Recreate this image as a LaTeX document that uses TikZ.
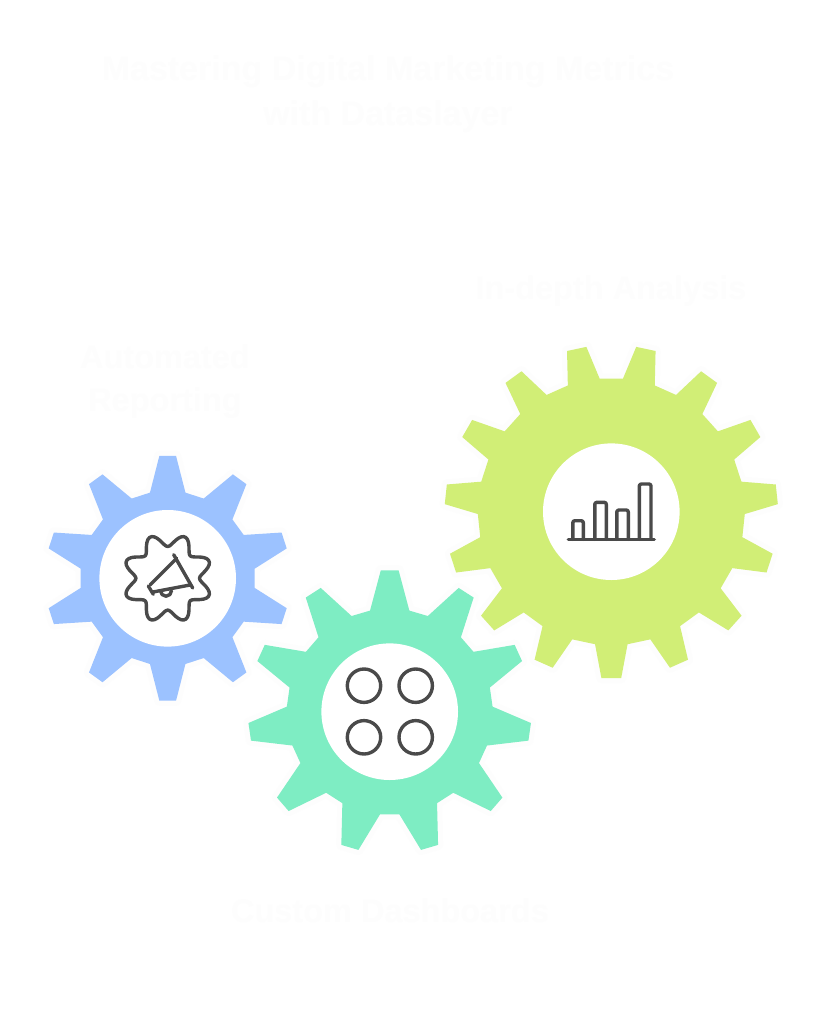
\documentclass[tikz,border=0pt]{standalone}
\usepackage{fontspec}
\setmainfont{Liberation Sans}
\definecolor{gearblue}{HTML}{9CC2FF}
\definecolor{gearmint}{HTML}{7EEDC3}
\definecolor{gearlime}{HTML}{D1EE76}
\definecolor{iconink}{HTML}{4A4A4A}
\definecolor{faintink}{HTML}{FDFDFD}
\definecolor{haloink}{HTML}{FDFDFD}
\tikzset{
  x=1pt,y=-1pt,
  icon/.style={draw=iconink,line width=3.4pt,line cap=round,line join=round},
  label/.style={text=faintink,font=\bfseries\fontsize{32.5}{43}\selectfont,inner sep=0pt,anchor=center,align=center},
  titlelabel/.style={label,font=\bfseries\fontsize{34}{45}\selectfont},
  gearface/.style={line join=round,preaction={draw=haloink,line width=10pt,line join=round}},
}
% #1 cx, #2 cy, #3 teeth, #4 start angle, #5 outer R, #6 root r, #7 tip half angle, #8 base half angle, #9 colour
\newcommand{\gearshape}[9]{%
  \pgfmathsetmacro{\gstep}{360/#3}%
  \fill[#9,gearface] ({#1+#5*cos(#4-#7)},{#2-#5*sin(#4-#7)})
    \foreach \gi in {1,...,#3}{
      -- ({#1+#5*cos(#4+(\gi-1)*\gstep-#7)},{#2-#5*sin(#4+(\gi-1)*\gstep-#7)})
      -- ({#1+#5*cos(#4+(\gi-1)*\gstep+#7)},{#2-#5*sin(#4+(\gi-1)*\gstep+#7)})
      -- ({#1+#6*cos(#4+(\gi-1)*\gstep+#8)},{#2-#6*sin(#4+(\gi-1)*\gstep+#8)})
      -- ({#1+#6*cos(#4+\gi*\gstep-#8)},{#2-#6*sin(#4+\gi*\gstep-#8)})
    } -- cycle;
  \fill[white] (#1,#2) circle[radius=68.3];
}
\begin{document}
\begin{tikzpicture}
\useasboundingbox (0,0) rectangle (827,1024);
\fill[white] (0,0) rectangle (827,1024);
\gearshape{167.7}{578.3}{10}{90}{122.7}{87.5}{3.9}{11.7}{gearblue}
\gearshape{611.3}{511.7}{15}{-90}{166.7}{133.5}{3.4}{7}{gearlime}
\gearshape{389.7}{711.7}{11}{90}{141.7}{103}{3.6}{11}{gearmint}
% badge and megaphone
\draw[icon] plot[smooth cycle,domain=0:357,samples=120,variable=\a]
  ({167.7+(38.3+6.5*cos(8*(\a-22.5)))*cos(\a)},{578.3-(38.3+6.5*cos(8*(\a-22.5)))*sin(\a)});
\draw[icon] (173.7,554.7) -- (192.7,588);
\draw[icon] (148.3,586) -- (153.3,594.3);
\draw[icon] (150,585) -- (176.7,558.3);
\draw[icon] (153,592) -- (190,585);
\draw[icon] (160.5,590.7) arc[start angle=180,end angle=360,radius=5.5pt];
% four circles
\draw[icon] (364,685.7) circle[radius=16.7];
\draw[icon] (415.7,685.7) circle[radius=16.7];
\draw[icon] (364,737.3) circle[radius=16.7];
\draw[icon] (415.7,737.3) circle[radius=16.7];
% bar chart
\draw[icon] (568.3,539.3) -- (654.3,539.3);
\draw[icon,rounded corners=2pt] (572.8,539.3) |- (583.3,520.7) -- (583.3,539.3);
\draw[icon,rounded corners=2pt] (594.8,539.3) |- (606.3,502.3) -- (606.3,539.3);
\draw[icon,rounded corners=2pt] (616.8,539.3) |- (628.3,510) -- (628.3,539.3);
\draw[icon,rounded corners=2pt] (639.3,539.3) |- (651,484) -- (651,539.3);
% labels
\node[titlelabel] (title) at (388,94) {Mastering Digital Marketing Metrics\\with Dataslayer};
\node[label] (indepth) at (611,291) {In-depth Analysis};
\node[label] (auto) at (165,382) {Automated\\Reporting};
\node[label] (custom) at (390,911) {Custom Dashboards};
\end{tikzpicture}
\end{document}
